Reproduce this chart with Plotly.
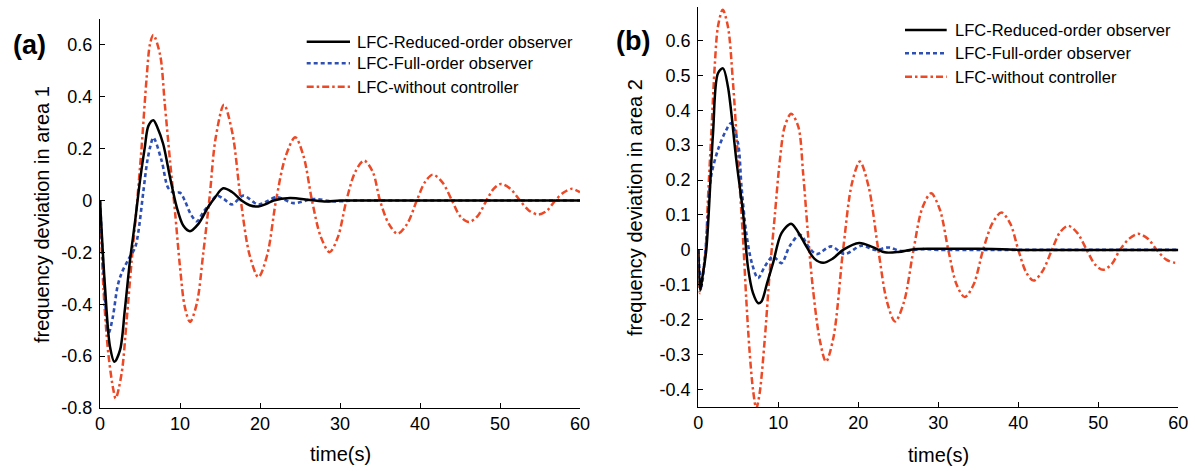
import plotly.graph_objects as go

# ---------------------------------------------------------------------------
# Frequency deviation responses (time in seconds)
# ---------------------------------------------------------------------------

# Area 1 - LFC with reduced-order observer
t_a_reduced = [0, 0.3, 0.625, 1.25, 1.8, 2.5, 3.1, 3.75, 4.4, 5.0, 5.6, 6.05, 6.67, 7.2,
               7.9, 8.75, 9.6, 10.4, 11.25, 12.3, 13.5, 14.4, 15.4, 16.5, 17.7, 18.7,
               19.8, 20.8, 21.7, 23.75, 26.25, 28.3, 30, 35, 40, 45, 50, 55, 60]
a_reduced = [0, -0.17, -0.333, -0.564, -0.622, -0.577, -0.423, -0.231, -0.077, 0.077,
             0.205, 0.288, 0.31, 0.28, 0.218, 0.09, -0.026, -0.096, -0.118, -0.09,
             -0.026, 0.013, 0.047, 0.033, 0.0, -0.018, -0.023, -0.013, 0.0, 0.01,
             0.002, -0.004, 0, 0, 0, 0, 0, 0, 0]

# Area 1 - LFC with full-order observer
t_a_full = [0, 0.4, 0.8, 1.1, 1.6, 2.2, 2.7, 3.5, 4.4, 4.8, 5.4, 5.9, 6.3, 6.67, 7.7,
            8.5, 9.2, 10.0, 10.6, 11.3, 12.1, 12.9, 13.75, 14.6, 15.5, 16.5, 17.9,
            19.8, 22.1, 24.2, 26.7, 29, 32, 40, 50, 60]
a_full = [0, -0.25, -0.45, -0.51, -0.45, -0.33, -0.28, -0.23, -0.18, -0.12, 0.03,
          0.15, 0.21, 0.243, 0.154, 0.05, 0.03, 0.03, 0.0, -0.05, -0.08, -0.045,
          -0.013, 0.019, 0.005, -0.015, 0.019, -0.015, 0.013, -0.01, 0.006, -0.003,
          0, 0, 0, 0]

# Area 1 - LFC without controller
t_a_none = [0, 0.42, 1.04, 1.67, 1.96, 2.7, 3.33, 3.96, 4.58, 5.2, 5.83, 6.25, 6.67,
            7.5, 8.1, 8.75, 9.4, 10.0, 10.6, 11.25, 12.1, 12.9, 13.7, 14.45, 15.5,
            16.55, 17.6, 18.7, 19.8, 20.9, 22.0, 23.2, 24.4, 25.45, 26.5, 27.6, 28.7,
            29.75, 30.8, 31.9, 33.0, 34.1, 35.0, 36.1, 37.2, 38.4, 39.6, 40.6, 41.6,
            42.8, 44.0, 45.0, 46.1, 47.2, 48.3, 49.2, 50.1, 51.3, 52.5, 53.6, 54.8,
            55.9, 56.9, 58.0, 59.0, 60.0]
a_none = [0, -0.333, -0.59, -0.73, -0.763, -0.667, -0.462, -0.231, -0.026, 0.205,
          0.474, 0.603, 0.638, 0.564, 0.372, 0.154, -0.051, -0.256, -0.41, -0.468,
          -0.397, -0.205, 0.013, 0.24, 0.369, 0.26, 0.0, -0.21, -0.295, -0.21, 0.0,
          0.17, 0.244, 0.17, 0.0, -0.14, -0.199, -0.14, 0.0, 0.11, 0.154, 0.11, 0.0,
          -0.09, -0.128, -0.09, 0.0, 0.07, 0.1, 0.07, 0.0, -0.06, -0.083, -0.06, 0.0,
          0.045, 0.064, 0.045, 0.0, -0.038, -0.054, -0.038, 0.0, 0.032, 0.045, 0.032]

# Area 2 - LFC with reduced-order observer
t_b_reduced = [0, 0.25, 0.5, 1.0, 1.84, 2.46, 3.09, 3.7, 4.75, 5.6, 6.2, 6.84, 7.5, 7.9,
               8.6, 9.34, 10.4, 11.6, 12.5, 13.5, 14.5, 15.6, 16.8, 18.1, 20.1, 21.8,
               23.3, 25, 27, 30, 35, 38, 40, 50, 60]
b_reduced = [0, -0.115, -0.08, 0.0, 0.334, 0.506, 0.52, 0.468, 0.258, 0.105, -0.048,
             -0.124, -0.153, -0.148, -0.095, -0.038, 0.048, 0.075, 0.05, 0.01, -0.025,
             -0.037, -0.025, 0.0, 0.02, 0.008, -0.007, -0.006, 0.002, 0.003, 0.003,
             0.002, 0, 0, 0]

# Area 2 - LFC with full-order observer
t_b_full = [0, 0.38, 0.9, 1.2, 1.6, 2.46, 3.5, 4.1, 4.96, 5.4, 6.0, 6.7, 7.46, 8.3,
            9.34, 10.4, 11.4, 12.7, 13.9, 14.8, 16.6, 18.3, 20.4, 22.1, 23.8, 25.3,
            28, 30, 40, 50, 60]
b_full = [0, -0.105, 0.0, 0.1, 0.21, 0.287, 0.344, 0.363, 0.306, 0.181, 0.048,
          -0.038, -0.081, -0.048, -0.019, -0.038, 0.01, 0.043, 0.005, -0.012, 0.01,
          -0.012, 0.012, 0.0, 0.007, -0.003, 0.002, 0, 0, 0, 0]

# Area 2 - LFC without controller
t_b_none = [0, 0.2, 0.55, 0.92, 1.2, 1.63, 2.05, 2.46, 3.05, 3.7, 4.34, 4.96, 5.6, 6.0,
            6.4, 6.84, 7.25, 7.67, 8.3, 8.92, 9.55, 10.2, 10.8, 11.6, 12.5, 13.1,
            13.7, 14.3, 15.2, 15.96, 16.9, 18.1, 19.2, 20.2, 21.3, 22.5, 23.6, 24.6,
            25.7, 26.9, 28.0, 29.1, 30.2, 31.25, 32.3, 33.3, 34.4, 35.6, 36.8, 37.9,
            39.0, 40.0, 41.0, 41.9, 43.0, 44.2, 45.2, 46.25, 47.4, 48.55, 49.6, 50.6,
            51.7, 52.7, 53.9, 55.0, 56.2, 57.3, 58.5, 59.6, 60.0]
b_none = [0, -0.124, -0.07, 0.0, 0.143, 0.334, 0.525, 0.64, 0.688, 0.64, 0.478, 0.258,
          0.029, -0.143, -0.287, -0.401, -0.454, -0.41, -0.258, -0.067, 0.095, 0.258,
          0.353, 0.39, 0.353, 0.22, 0.048, -0.105, -0.26, -0.32, -0.25, 0.0, 0.19,
          0.253, 0.18, 0.0, -0.15, -0.205, -0.15, 0.0, 0.12, 0.162, 0.115, 0.0, -0.1,
          -0.135, -0.1, 0.0, 0.078, 0.107, 0.075, 0.0, -0.065, -0.088, -0.062, 0.0,
          0.05, 0.069, 0.048, 0.0, -0.042, -0.057, -0.04, 0.0, 0.033, 0.046, 0.032,
          0.0, -0.028, -0.037, -0.036]

series_names = ["LFC-Reduced-order observer", "LFC-Full-order observer",
                "LFC-without controller"]

x_ticks = [0, 10, 20, 30, 40, 50, 60]
x_ticktext = ["0", "10", "20", "30", "40", "50", "60"]
y1_ticks = [-0.8, -0.6, -0.4, -0.2, 0, 0.2, 0.4, 0.6]
y1_ticktext = ["-0.8", "-0.6", "-0.4", "-0.2", "0", "0.2", "0.4", "0.6"]
y2_ticks = [-0.4, -0.3, -0.2, -0.1, 0, 0.1, 0.2, 0.3, 0.4, 0.5, 0.6]
y2_ticktext = ["-0.4", "-0.3", "-0.2", "-0.1", "0", "0.1", "0.2", "0.3", "0.4",
               "0.5", "0.6"]

# ---------------------------------------------------------------------------
# Styling
# ---------------------------------------------------------------------------
W, H = 1195, 471
FONT = "Liberation Sans, Arial, sans-serif"
BLACK = "#000000"
BLUE = "#2E50B4"
RED = "#EC4A27"
styles = [
    dict(color=BLACK, width=2.5, dash="solid"),
    dict(color=BLUE, width=2.6, dash="4px,3px"),
    dict(color=RED, width=2.5, dash="7px,3px,2.5px,3px"),
]


def px_x(p):
    return p / W


def px_y(p):
    return 1 - p / H


fig = go.Figure()

panels = [
    ("x", "y", [(t_a_reduced, a_reduced), (t_a_full, a_full), (t_a_none, a_none)]),
    ("x2", "y2", [(t_b_reduced, b_reduced), (t_b_full, b_full), (t_b_none, b_none)]),
]
# draw order: without controller at the back, reduced-order on top
for xa, ya, curves in panels:
    for idx in (2, 1, 0):
        tt, vv = curves[idx]
        fig.add_trace(go.Scatter(
            x=tt, y=vv, xaxis=xa, yaxis=ya, mode="lines",
            name=series_names[idx], showlegend=False,
            line=dict(shape="spline", smoothing=0.9, **styles[idx]),
            hoverinfo="skip",
        ))

axis_common = dict(
    showline=True, linecolor="black", linewidth=1.3, mirror=False,
    showgrid=False, zeroline=False, automargin=False,
    ticks="inside", ticklen=5, tickwidth=1, tickcolor="black",
    tickfont=dict(family=FONT, size=18, color="black"),
)
x_axis_style = dict(axis_common, ticklabelstandoff=-1)
y_axis_style = dict(axis_common, ticklabelstandoff=3)

fig.update_layout(
    template="none",
    width=W, height=H,
    margin=dict(l=0, r=0, t=0, b=0, autoexpand=False),
    paper_bgcolor="white", plot_bgcolor="white",
    xaxis=dict(domain=[px_x(100), px_x(580)], range=[0, 60], anchor="y",
               tickvals=x_ticks, ticktext=x_ticktext, **x_axis_style),
    yaxis=dict(domain=[px_y(408), px_y(19)], range=[-0.8, 0.7], anchor="x",
               tickvals=y1_ticks, ticktext=y1_ticktext, **y_axis_style),
    xaxis2=dict(domain=[px_x(698.3), px_x(1178.3)], range=[0, 60], anchor="y2",
                tickvals=x_ticks, ticktext=x_ticktext, **x_axis_style),
    yaxis2=dict(domain=[px_y(407.3), px_y(7.3)], range=[-0.451, 0.695], anchor="x2",
                tickvals=y2_ticks, ticktext=y2_ticktext, **y_axis_style),
    showlegend=False,
)

annotations = []
shapes = []

# axis titles
for cx, cy, txt in [(340.5, 454, "time(s)"), (938.8, 455, "time(s)")]:
    annotations.append(dict(x=px_x(cx), y=px_y(cy), xref="paper", yref="paper",
                            text=txt, showarrow=False, xanchor="center",
                            yanchor="middle",
                            font=dict(family=FONT, size=20, color="black")))
for cx, cy, txt in [(42, 215, "frequency deviation in area 1"),
                    (635, 208, "frequency deviation in area 2")]:
    annotations.append(dict(x=px_x(cx), y=px_y(cy), xref="paper", yref="paper",
                            text=txt, showarrow=False, textangle=-90,
                            xanchor="center", yanchor="middle",
                            font=dict(family=FONT, size=20, color="black")))

# panel labels
for cx, cy, txt in [(29.5, 45, "<b>(a)</b>"), (632.5, 41, "<b>(b)</b>")]:
    annotations.append(dict(x=px_x(cx), y=px_y(cy), xref="paper", yref="paper",
                            text=txt, showarrow=False, xanchor="center",
                            yanchor="middle",
                            font=dict(family=FONT, size=27, color="black")))

# legends
legend_specs = [
    (306.7, 350.0, 355.0, [41.7, 63.3, 86.7]),
    (905.0, 946.7, 953.3, [30.0, 53.3, 76.7]),
]
for x0, x1, xt, rows in legend_specs:
    for idx, ry in enumerate(rows):
        st = styles[idx]
        shapes.append(dict(type="line", xref="paper", yref="paper",
                           x0=px_x(x0), x1=px_x(x1), y0=px_y(ry), y1=px_y(ry),
                           line=dict(color=st["color"], width=st["width"],
                                     dash=st["dash"])))
        annotations.append(dict(x=px_x(xt), y=px_y(ry), xref="paper", yref="paper",
                                text=series_names[idx], showarrow=False,
                                xanchor="left", yanchor="middle",
                                font=dict(family=FONT, size=16.5, color="black")))

fig.update_layout(annotations=annotations, shapes=shapes)

fig.write_html("out.html")
